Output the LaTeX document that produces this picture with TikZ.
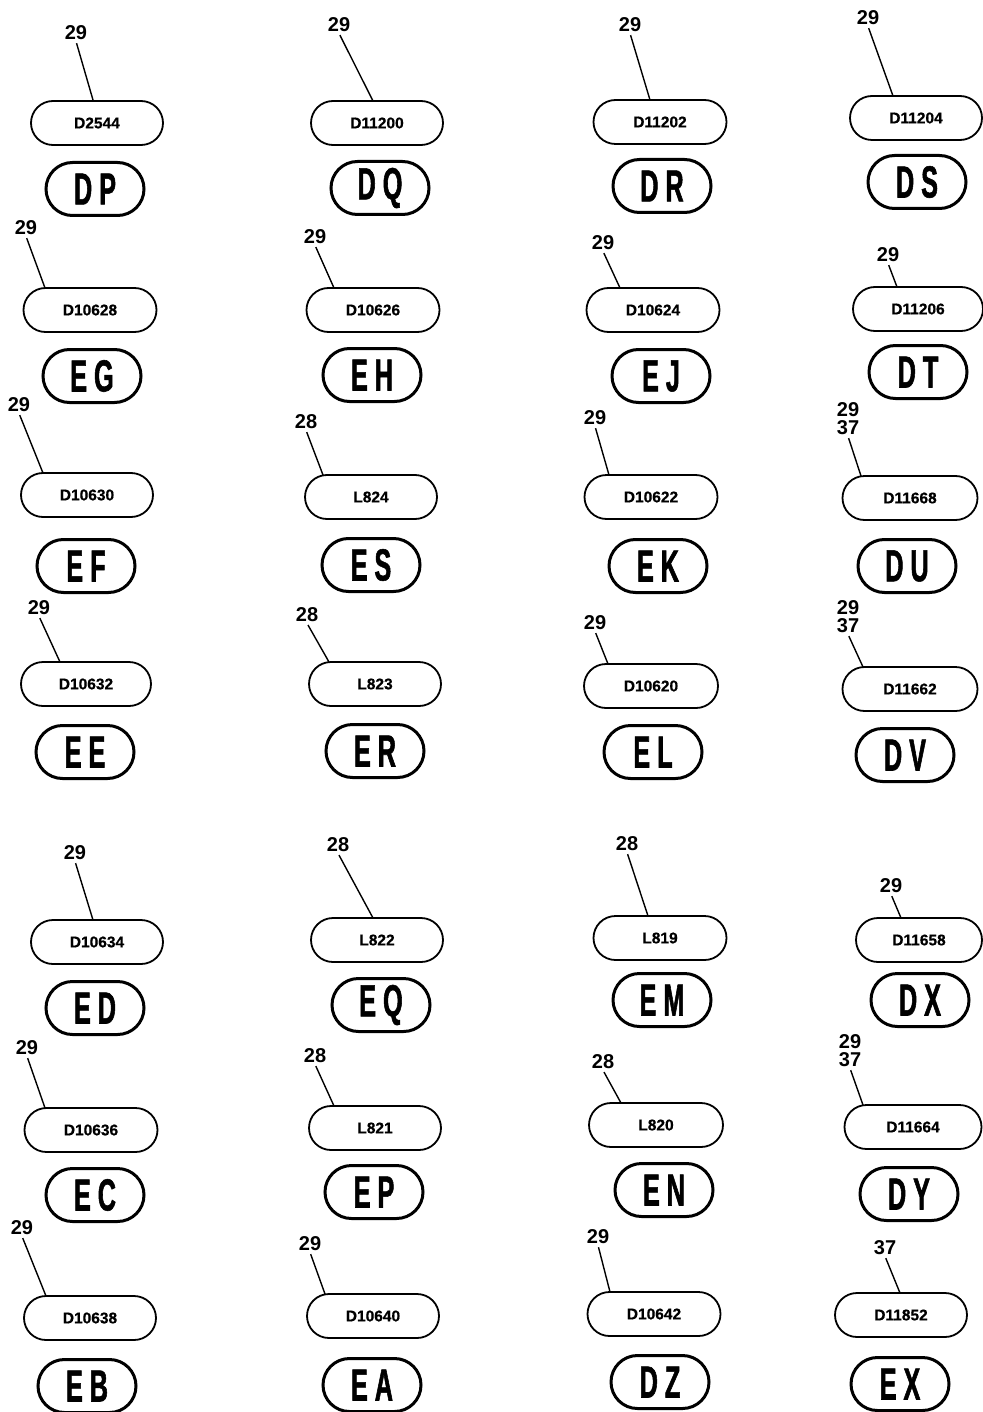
\documentclass[tikz,border=0pt]{standalone}
\usepackage{fontspec}
\setmainfont{Liberation Sans}
\newfontfamily\bigfont[FakeStretch=0.56,FakeBold=1.2]{Liberation Sans}
\newfontfamily\codefont[FakeBold=0.6]{Liberation Sans}
\usetikzlibrary{shapes.misc}
\tikzset{
 lab/.style={font=\bfseries\fontsize{20}{18}\selectfont, align=center, inner sep=1pt},
 codebox/.style={rounded rectangle, draw, line width=1.8pt, minimum height=44pt, font=\codefont\bfseries\fontsize{15.5}{15}\selectfont, inner sep=0pt},
 letbox/.style={rounded rectangle, draw, line width=3pt, minimum width=98pt, minimum height=53pt, font=\bigfont\bfseries\fontsize{45}{45}\selectfont, inner sep=0pt},
 leader/.style={line width=1.4pt, shorten <=2pt}
}
\newcommand\mycell[9]{%
 \node[lab] (l#1) at (#2) {#3};
 \node[codebox, minimum width=#6pt] (s#1) at (#5) {#7};
 \coordinate (t#1) at (#4);
 \draw[leader] (l#1.south) -- (t#1);
 \node[letbox] (b#1) at (#8) {#9};
}
\begin{document}
\begin{tikzpicture}[x=1pt,y=-1pt]
\useasboundingbox (0,0) rectangle (982,1412);
\mycell{1}{76,33}{29}{93,100}{97,123}{132}{D2544}{95,189}{D\kern7pt P}
\mycell{2}{339,25}{29}{373,101}{377,123}{132}{D11200}{380,188}{D\kern7pt Q}
\mycell{3}{630,25}{29}{650,100}{660,122}{133}{D11202}{662,186}{D\kern7pt R}
\mycell{4}{868,18}{29}{893,96}{916,118}{132}{D11204}{917,182}{D\kern7pt S}
\mycell{5}{26,228}{29}{45,288}{90,310}{133}{D10628}{92,376}{E\kern7pt G}
\mycell{6}{315,237}{29}{334,288}{373,310}{133}{D10626}{372,375}{E\kern7pt H}
\mycell{7}{603,243}{29}{620,288}{653,310}{133}{D10624}{661,376}{E\kern7pt J}
\mycell{8}{888,255}{29}{897,287}{918,309}{130}{D11206}{918,372}{D\kern7pt T}
\mycell{9}{19,405}{29}{43,473}{87,495}{132}{D10630}{86,566}{E\kern7pt F}
\mycell{10}{306,422}{28}{323,475}{371,497}{132}{L824}{371,565}{E\kern7pt S}
\mycell{11}{595,418}{29}{609,475}{651,497}{133}{D10622}{658,566}{E\kern7pt K}
\mycell{12}{848,419}{29\\37}{861,476}{910,498}{135}{D11668}{907,566}{D\kern7pt U}
\mycell{13}{39,608}{29}{60,662}{86,684}{130}{D10632}{85,752}{E\kern7pt E}
\mycell{14}{307,615}{28}{329,662}{375,684}{132}{L823}{375,751}{E\kern7pt R}
\mycell{15}{595,623}{29}{608,664}{651,686}{134}{D10620}{653,752}{E\kern7pt L}
\mycell{16}{848,617}{29\\37}{863,667}{910,689}{135}{D11662}{905,755}{D\kern7pt V}
\mycell{17}{75,853}{29}{93,920}{97,942}{132}{D10634}{95,1008}{E\kern7pt D}
\mycell{18}{338,845}{28}{373,918}{377,940}{132}{L822}{381,1005}{E\kern7pt Q}
\mycell{19}{627,844}{28}{648,916}{660,938}{133}{L819}{662,1000}{E\kern7pt M}
\mycell{20}{891,886}{29}{901,918}{919,940}{126}{D11658}{920,1000}{D\kern7pt X}
\mycell{21}{27,1048}{29}{45,1108}{91,1130}{133}{D10636}{95,1195}{E\kern7pt C}
\mycell{22}{315,1056}{28}{334,1106}{375,1128}{132}{L821}{374,1192}{E\kern7pt P}
\mycell{23}{603,1062}{28}{621,1103}{656,1125}{134}{L820}{664,1190}{E\kern7pt N}
\mycell{24}{850,1051}{29\\37}{863,1105}{913,1127}{137}{D11664}{909,1194}{D\kern7pt Y}
\mycell{25}{22,1228}{29}{46,1296}{90,1318}{132}{D10638}{87,1386}{E\kern7pt B}
\mycell{26}{310,1244}{29}{325,1294}{373,1316}{132}{D10640}{372,1385}{E\kern7pt A}
\mycell{27}{598,1237}{29}{610,1292}{654,1314}{133}{D10642}{660,1382}{D\kern7pt Z}
\mycell{28}{885,1248}{37}{900,1293}{901,1315}{132}{D11852}{900,1384}{E\kern7pt X}
\end{tikzpicture}
\end{document}
